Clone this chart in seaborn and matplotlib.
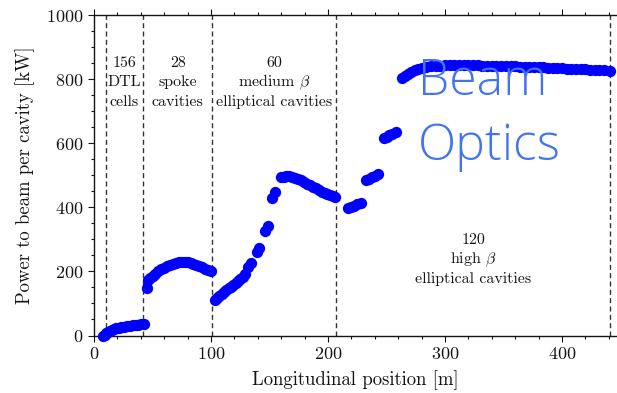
import matplotlib
matplotlib.use("Agg")
import matplotlib.pyplot as plt
from matplotlib.ticker import MultipleLocator
import numpy as np
import pandas as pd
import seaborn as sns

# Power delivered to the beam per cavity along the linac
dtl_x = [7.5, 9, 10.5, 12, 13.5, 15, 17, 19, 21, 23, 25.5, 28, 30.5, 33, 35.5, 38, 40.5, 42.5]
dtl_y = [0, 3, 7, 11, 14, 17, 20, 22, 24, 26, 28, 30, 31, 32, 33, 34, 35, 36]

spoke_x = [45, 46.5, 48, 50, 52.5, 55, 57.5, 60, 62.5, 65, 67.5, 70, 72.5, 75, 77.5,
           80, 82.5, 85, 87.5, 90, 92.5, 95, 97.5, 100]
spoke_y = [147, 172, 180, 186, 193, 200, 206, 211, 216, 220, 224, 227, 229, 230, 230,
           229, 227, 224, 221, 217, 213, 209, 204, 200]

medium_x = [103, 105, 107, 109, 111, 113, 115, 117, 119, 121, 123, 125, 127, 129,
            132, 134, 139, 141, 146, 148.5, 152.5, 155,
            160, 162, 164.5, 167, 169.5, 172, 174.5, 177, 179.5, 182, 184.5, 187,
            189.5, 192, 194.5, 197, 199.5, 202, 204, 206]
medium_y = [111, 117, 123, 129, 135, 141, 147, 152, 158, 164, 170, 177, 184, 191,
            214, 226, 262, 274, 326, 343, 428, 448,
            494, 496, 497, 497, 495, 492, 488, 484, 479, 474, 469, 464,
            459, 454, 449, 445, 441, 437, 434, 431]

high_x = [217.5, 220, 222.5, 225, 228.3,
          232.5, 235, 237.5, 240, 243,
          247.6, 250, 252.5, 255, 258,
          263, 265.5, 268, 271, 274, 277, 280, 284, 288, 292, 296, 300, 304, 308,
          312, 316, 320, 324, 328, 332, 336, 340, 344, 348, 352, 356, 360, 364,
          368, 372, 376, 380, 384, 388, 392, 396, 400, 404, 408, 412, 416, 420,
          424, 428, 432, 436, 441]
high_y = [397, 401, 405, 409, 414,
          485, 489, 494, 499, 504,
          615, 620, 625, 629, 634,
          802, 810, 817, 823, 828, 832, 835, 838, 840, 841, 842, 843, 843, 843,
          843, 843, 843, 843, 843, 842, 842, 842, 841, 841, 840, 840, 840, 839,
          839, 838, 838, 837, 837, 836, 836, 835, 834, 833, 833, 832, 831, 830,
          829, 828, 827, 827, 826]

section_bounds = [10, 42, 100.5, 206.5, 441]

labels = [
    (26, ["156", "DTL", "cells"], 850),
    (71.5, ["28", "spoke", "cavities"], 850),
    (154, ["60", r"medium $\beta$", "elliptical cavities"], 850),
    (324, ["120", r"high $\beta$", "elliptical cavities"], 298),
]

df = pd.concat([
    pd.DataFrame({"x": dtl_x, "y": dtl_y, "section": "DTL"}),
    pd.DataFrame({"x": spoke_x, "y": spoke_y, "section": "spoke"}),
    pd.DataFrame({"x": medium_x, "y": medium_y, "section": "medium"}),
    pd.DataFrame({"x": high_x, "y": high_y, "section": "high"}),
], ignore_index=True)

sns.set_style("ticks")
plt.rcParams["font.family"] = ["cmr10"]
plt.rcParams["mathtext.fontset"] = "cm"
plt.rcParams["axes.formatter.use_mathtext"] = True
plt.rcParams["axes.unicode_minus"] = False

ink = "#141414"
fig = plt.figure(figsize=(6.17, 3.93), dpi=100)
ax = fig.add_axes([0.1524, 0.1463, 0.8476, 0.8155])

sns.scatterplot(data=df, x="x", y="y", color="#0000ff", s=66, linewidth=0,
                ax=ax, legend=False, clip_on=False, zorder=3)

for xb in section_bounds:
    ax.axvline(xb, color="#333333", lw=1.0, ls=(0, (3.6, 2.4)), zorder=2)

for xc, lines, ytop in labels:
    for i, t in enumerate(lines):
        ax.text(xc, ytop - i * 61, t, ha="center", va="center", fontsize=11.5,
                color=ink)

ax.set_xlim(0, 447)
ax.set_ylim(0, 1000)
ax.xaxis.set_major_locator(MultipleLocator(100))
ax.xaxis.set_minor_locator(MultipleLocator(20))
ax.yaxis.set_major_locator(MultipleLocator(200))
ax.yaxis.set_minor_locator(MultipleLocator(50))
ax.tick_params(which="both", direction="out", top=True, colors=ink,
               labelsize=13, width=0.8)
ax.tick_params(which="major", length=4)
ax.tick_params(which="minor", length=2.5)
for side in ["left", "bottom", "top"]:
    ax.spines[side].set_color(ink)
    ax.spines[side].set_linewidth(1.0)
ax.spines["right"].set_visible(False)

ax.set_xlabel("Longitudinal position [m]", fontsize=13.5, color=ink, labelpad=6)
ax.set_ylabel("Power to beam per cavity [kW]", fontsize=13.5, color=ink, labelpad=8)

logo = dict(family=["Open Sans", "DejaVu Sans"], weight="light", fontsize=36,
            color="#4274f2", ha="left", va="baseline", zorder=5)
fig.text(0.678, 0.758, "Beam", **logo)
fig.text(0.678, 0.593, "Optics", **logo)

fig.savefig("out.png", dpi=100)
